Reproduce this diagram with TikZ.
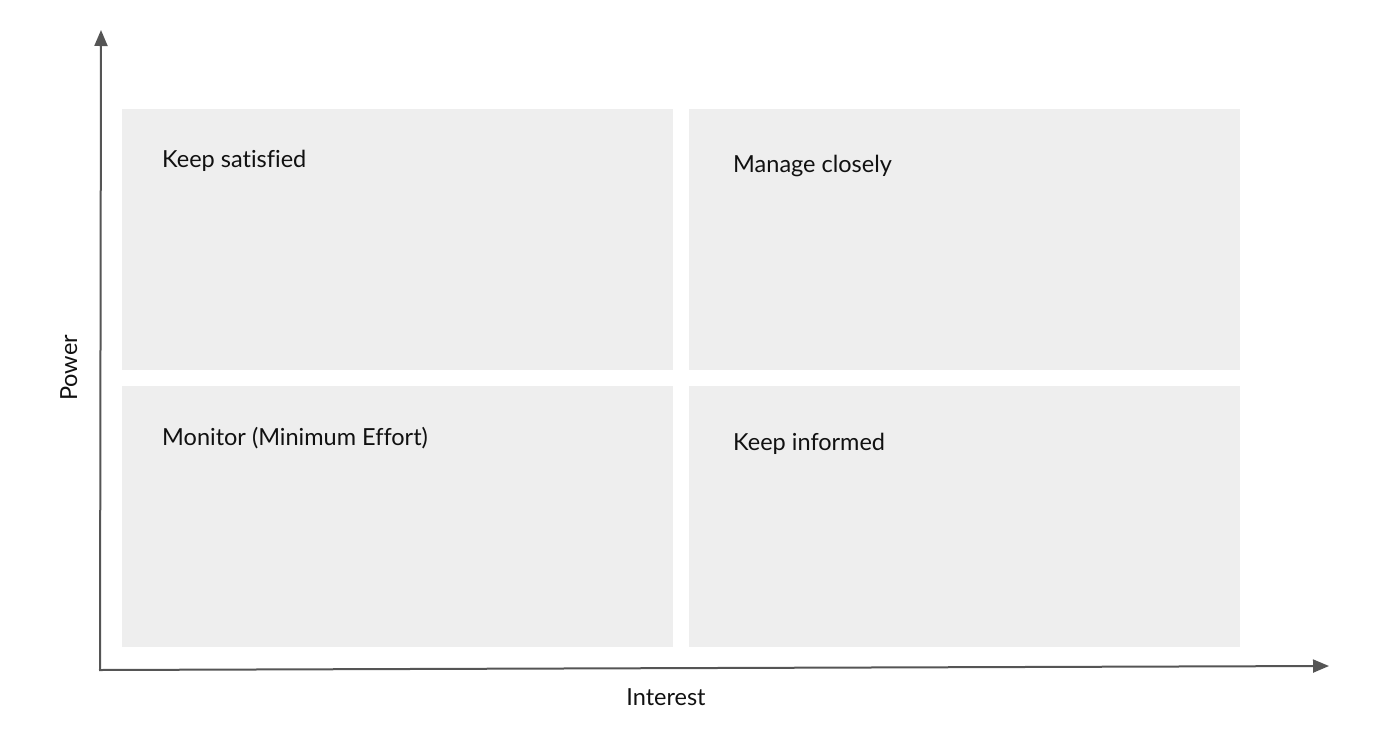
\documentclass[tikz,border=0pt]{standalone}
\usepackage{fontspec}
\setmainfont[Ligatures=NoCommon]{Lato}
\usetikzlibrary{arrows.meta}
\definecolor{boxgray}{HTML}{EEEEEE}
\definecolor{axisgray}{HTML}{555555}
\definecolor{textdark}{HTML}{111111}
\tikzset{
  quad/.style={fill=boxgray, draw=none},
  axis/.style={draw=axisgray, line width=2pt, -{Triangle[length=16pt,width=13pt]}},
  label/.style={anchor=base west, inner sep=0pt, text=textdark, font=\fontsize{23.5pt}{28pt}\selectfont},
  axislabel/.style={anchor=base, inner sep=0pt, text=textdark, font=\fontsize{23.5pt}{28pt}\selectfont},
}
\begin{document}
\begin{tikzpicture}[x=1pt,y=-1pt]
\useasboundingbox (0,0) rectangle (1400,745);
% quadrants
\path[quad] (122,109) rectangle (673,370);
\path[quad] (689,109) rectangle (1240,370);
\path[quad] (122,386) rectangle (673,647);
\path[quad] (689,386) rectangle (1240,647);
% axes
\coordinate (origin) at (100,670);
\coordinate (ytip) at (101,30);
\coordinate (xtip) at (1329,666);
\draw[axis] (100,669) -- (ytip);
\draw[axis] (99,670) -- (xtip);
% labels
\node[label] (ks) at (162,167) {Keep satisfied};
\node[label] (mc) at (733,172) {Manage closely};
\node[label] (mo) at (162,445) {Monitor (Minimum Effort)};
\node[label] (ki) at (733,450) {Keep informed};
\node[axislabel] (interest) at (666,705) {Interest};
\node[axislabel, rotate=90] (power) at (77,368) {Power};
\end{tikzpicture}
\end{document}
